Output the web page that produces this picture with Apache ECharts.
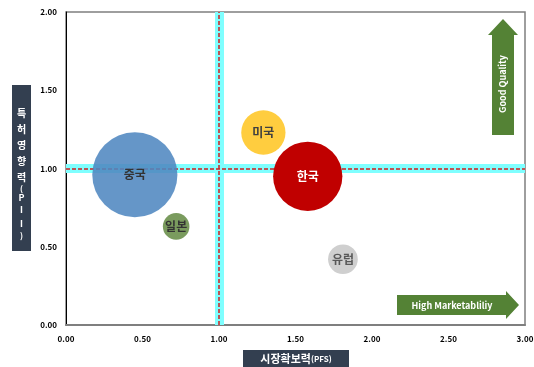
<!DOCTYPE html>
<html><head><meta charset="utf-8">
<script src="https://cdn.jsdelivr.net/npm/echarts@6/dist/echarts.min.js"></script>
<style>html,body{margin:0;padding:0;background:#fff}#c{width:534px;height:367px}</style>
</head><body><div id="c"></div>
<script>
const countries = ['중국', '미국', '한국', '일본', '유럽'];
const pfs = [0.45, 1.29, 1.58, 0.72, 1.81];
const pii = [0.96, 1.23, 0.95, 0.63, 0.42];
const share = [37, 10, 24.5, 3.6, 4.5];
const xTicks = ['0.00', '0.50', '1.00', '1.50', '2.00', '2.50', '3.00'];
const yTicks = ['0.00', '0.50', '1.00', '1.50', '2.00'];
const refX = 1.0, refY = 1.0;

const colors = ['rgba(80,136,192,0.88)', '#FFCD3F', '#C00000', '#7A9B5E', '#CFCFCF'];
const labelColors = ['#333333', '#404040', '#FFFFFF', '#333333', '#595959'];
const F = '"Noto Sans CJK KR","Noto Sans",sans-serif';

const chart = echarts.init(document.getElementById('c'), null, {renderer: 'canvas'});
const data = countries.map((n, i) => ({
  value: [pfs[i], pii[i], share[i]], name: n,
  itemStyle: {color: colors[i], opacity: 1},
  label: {color: labelColors[i]}
}));

chart.setOption({
  animation: false,
  grid: {left: 66, right: 9, top: 12, bottom: 42, outerBoundsMode: 'none', containLabel: false, show: true, borderColor: '#7f7f7f', borderWidth: 1.5, backgroundColor: 'transparent'},
  xAxis: {
    type: 'value', min: 0, max: 3, interval: 0.5,
    axisLine: {show: true, lineStyle: {color: '#7f7f7f', width: 2}},
    axisTick: {show: false}, splitLine: {show: false},
    axisLabel: {formatter: v => xTicks[Math.round(v / 0.5)], fontFamily: F, fontWeight: 'bold', fontSize: 8, color: '#000', margin: 10}
  },
  yAxis: {
    type: 'value', min: 0, max: 2, interval: 0.5,
    axisLine: {show: true, lineStyle: {color: '#000', width: 1}},
    axisTick: {show: false}, splitLine: {show: false},
    axisLabel: {formatter: v => yTicks[Math.round(v / 0.5)], fontFamily: F, fontWeight: 'bold', fontSize: 8, color: '#000', margin: 9}
  },
  series: [
    {
      type: 'line', data: [], silent: true,
      markLine: {
        symbol: 'none', silent: true, label: {show: false},
        lineStyle: {color: '#7FFFFF', width: 9, type: 'solid'},
        data: [{xAxis: refX}, {yAxis: refY}]
      }
    },
    {
      type: 'line', data: [], silent: true,
      markLine: {
        symbol: 'none', silent: true, label: {show: false},
        lineStyle: {color: '#D02020', width: 1.5, type: [4, 2]},
        data: [{xAxis: refX}, {yAxis: refY}]
      }
    },
    {
      type: 'scatter', data: data,
      symbolSize: v => 14 * Math.sqrt(v[2]),
      itemStyle: {opacity: 1},
      label: {show: true, position: 'inside', formatter: p => p.name, fontFamily: F, fontSize: 12, fontWeight: 'bold'},
      z: 5
    }
  ],
  graphic: [
    {type: 'rect', shape: {x: 12, y: 85, width: 19, height: 166}, style: {fill: '#333F50'}},
    {type: 'text', x: 21.5, y: 105, style: {
      text: '{k|특}\n{k|허}\n{k|영}\n{k|향}\n{k|력}\n{p|(}\n{l|P}\n{i|I}\n{i|I}\n{q|)}',
      fill: '#fff', align: 'center', verticalAlign: 'top',
      rich: {
        k: {font: 'bold 10px ' + F, fill: '#fff', lineHeight: 16, align: 'center'},
        p: {font: 'bold 8px ' + F, fill: '#fff', lineHeight: 7, align: 'center'},
        l: {font: 'bold 9px ' + F, fill: '#fff', lineHeight: 11, align: 'center'},
        i: {font: 'bold 9px ' + F, fill: '#fff', lineHeight: 14, align: 'center'},
        q: {font: 'bold 8px ' + F, fill: '#fff', lineHeight: 10, align: 'center'}
      }}},
    {type: 'rect', shape: {x: 243, y: 350, width: 106, height: 17}, style: {fill: '#333F50'}},
    {type: 'text', x: 296, y: 359, style: {text: '{a|시장확보력}{b|(PFS)}', fill: '#fff', align: 'center', verticalAlign: 'middle',
      rich: {a: {font: 'bold 11px ' + F, fill: '#fff'}, b: {font: 'bold 8px ' + F, fill: '#fff'}}}},
    {type: 'polygon', shape: {points: [[492, 135], [514, 135], [514, 35], [518, 35], [503, 19], [488, 35], [492, 35]]}, style: {fill: '#548235'}},
    {type: 'text', x: 503, y: 84, rotation: Math.PI / 2, style: {text: 'Good Quality', fill: '#fff', font: 'bold 9px ' + F, align: 'center', verticalAlign: 'middle'}},
    {type: 'polygon', shape: {points: [[397, 295], [506, 295], [506, 291], [519, 305], [506, 319], [506, 315], [397, 315]]}, style: {fill: '#548235'}},
    {type: 'text', x: 452, y: 305.5, style: {text: 'High Marketabliliy', fill: '#fff', font: 'bold 9px ' + F, align: 'center', verticalAlign: 'middle'}}
  ]
});
</script></body></html>
